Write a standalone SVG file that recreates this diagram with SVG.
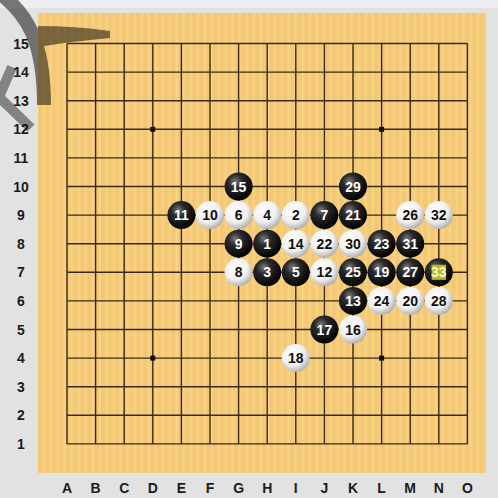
<svg xmlns="http://www.w3.org/2000/svg" width="498" height="498" viewBox="0 0 498 498">
<style>
.lbl{font-family:"Liberation Sans",Arial,sans-serif;font-weight:bold;font-size:14px;fill:#1a1a1a;text-anchor:middle}
.num{font-family:"Liberation Sans Narrow","Liberation Sans",Arial,sans-serif;font-stretch:condensed;font-weight:bold;font-size:14px;text-anchor:middle}
.b circle{fill:url(#gb)}
.w circle{fill:url(#gw)}
.b text{fill:#fff}
.w text{fill:#111}
.grid{fill:none;stroke:#3a2818;stroke-width:1.4}
</style>
<defs>
<radialGradient id="gb" cx="0.38" cy="0.32" r="0.7">
<stop offset="0" stop-color="#7a7a7a"/>
<stop offset="0.35" stop-color="#2a2a2a"/>
<stop offset="1" stop-color="#000"/>
</radialGradient>
<radialGradient id="gw" cx="0.4" cy="0.35" r="0.75">
<stop offset="0" stop-color="#ffffff"/>
<stop offset="0.55" stop-color="#f0f0f0"/>
<stop offset="1" stop-color="#9a9a9a"/>
</radialGradient>
<pattern id="wood" x="0" y="0" width="7" height="10" patternUnits="userSpaceOnUse">
<rect width="7" height="10" fill="#f6cb78"/>
<rect x="1" width="1.5" height="10" fill="#f9d589" opacity="0.8"/>
<rect x="4.5" width="1" height="10" fill="#f0c46e" opacity="0.7"/>
</pattern>
</defs>
<rect width="498" height="498" fill="#e2e2e2"/>
<rect width="498" height="8" fill="#efeef2"/>
<rect x="38" y="13" width="448" height="460" fill="url(#wood)"/>
<g id="grid">
<path class="grid" d="M67 43.5V443.9M95.6 43.5V443.9M124.2 43.5V443.9M152.8 43.5V443.9M181.4 43.5V443.9M210 43.5V443.9M238.6 43.5V443.9M267.2 43.5V443.9M295.8 43.5V443.9M324.4 43.5V443.9M353 43.5V443.9M381.6 43.5V443.9M410.2 43.5V443.9M438.8 43.5V443.9M467.4 43.5V443.9M67 43.5H467.4M67 72.1H467.4M67 100.7H467.4M67 129.3H467.4M67 157.9H467.4M67 186.5H467.4M67 215.1H467.4M67 243.7H467.4M67 272.3H467.4M67 300.9H467.4M67 329.5H467.4M67 358.1H467.4M67 386.7H467.4M67 415.3H467.4M67 443.9H467.4"/>
<g fill="#111">
<rect x="150.3" y="126.8" width="5" height="5"/>
<rect x="379.1" y="126.8" width="5" height="5"/>
<rect x="150.3" y="355.6" width="5" height="5"/>
<rect x="379.1" y="355.6" width="5" height="5"/>
</g>
</g>
<g id="row-labels" class="lbl">
<text x="21" y="48.5">15</text>
<text x="21" y="77.1">14</text>
<text x="21" y="105.7">13</text>
<text x="21" y="134.3">12</text>
<text x="21" y="162.9">11</text>
<text x="21" y="191.5">10</text>
<text x="21" y="220.1">9</text>
<text x="21" y="248.7">8</text>
<text x="21" y="277.3">7</text>
<text x="21" y="305.9">6</text>
<text x="21" y="334.5">5</text>
<text x="21" y="363.1">4</text>
<text x="21" y="391.7">3</text>
<text x="21" y="420.3">2</text>
<text x="21" y="448.9">1</text>
</g>
<g id="col-labels" class="lbl">
<text x="67" y="493">A</text>
<text x="95.6" y="493">B</text>
<text x="124.2" y="493">C</text>
<text x="152.8" y="493">D</text>
<text x="181.4" y="493">E</text>
<text x="210" y="493">F</text>
<text x="238.6" y="493">G</text>
<text x="267.2" y="493">H</text>
<text x="295.8" y="493">I</text>
<text x="324.4" y="493">J</text>
<text x="353" y="493">K</text>
<text x="381.6" y="493">L</text>
<text x="410.2" y="493">M</text>
<text x="438.8" y="493">N</text>
<text x="467.4" y="493">O</text>
</g>
<g id="stones">
<g id="s15" class="b"><circle cx="238.6" cy="186.5" r="14"/><text class="num" x="238.6" y="191.5">15</text></g>
<g id="s29" class="b"><circle cx="353" cy="186.5" r="14"/><text class="num" x="353" y="191.5">29</text></g>
<g id="s11" class="b"><circle cx="181.4" cy="215.1" r="14"/><text class="num" x="181.4" y="220.1">11</text></g>
<g id="s10" class="w"><circle cx="210" cy="215.1" r="14"/><text class="num" x="210" y="220.1">10</text></g>
<g id="s6" class="w"><circle cx="238.6" cy="215.1" r="14"/><text class="num" x="238.6" y="220.1">6</text></g>
<g id="s4" class="w"><circle cx="267.2" cy="215.1" r="14"/><text class="num" x="267.2" y="220.1">4</text></g>
<g id="s2" class="w"><circle cx="295.8" cy="215.1" r="14"/><text class="num" x="295.8" y="220.1">2</text></g>
<g id="s7" class="b"><circle cx="324.4" cy="215.1" r="14"/><text class="num" x="324.4" y="220.1">7</text></g>
<g id="s21" class="b"><circle cx="353" cy="215.1" r="14"/><text class="num" x="353" y="220.1">21</text></g>
<g id="s26" class="w"><circle cx="410.2" cy="215.1" r="14"/><text class="num" x="410.2" y="220.1">26</text></g>
<g id="s32" class="w"><circle cx="438.8" cy="215.1" r="14"/><text class="num" x="438.8" y="220.1">32</text></g>
<g id="s9" class="b"><circle cx="238.6" cy="243.7" r="14"/><text class="num" x="238.6" y="248.7">9</text></g>
<g id="s1" class="b"><circle cx="267.2" cy="243.7" r="14"/><text class="num" x="267.2" y="248.7">1</text></g>
<g id="s14" class="w"><circle cx="295.8" cy="243.7" r="14"/><text class="num" x="295.8" y="248.7">14</text></g>
<g id="s22" class="w"><circle cx="324.4" cy="243.7" r="14"/><text class="num" x="324.4" y="248.7">22</text></g>
<g id="s30" class="w"><circle cx="353" cy="243.7" r="14"/><text class="num" x="353" y="248.7">30</text></g>
<g id="s23" class="b"><circle cx="381.6" cy="243.7" r="14"/><text class="num" x="381.6" y="248.7">23</text></g>
<g id="s31" class="b"><circle cx="410.2" cy="243.7" r="14"/><text class="num" x="410.2" y="248.7">31</text></g>
<g id="s8" class="w"><circle cx="238.6" cy="272.3" r="14"/><text class="num" x="238.6" y="277.3">8</text></g>
<g id="s3" class="b"><circle cx="267.2" cy="272.3" r="14"/><text class="num" x="267.2" y="277.3">3</text></g>
<g id="s5" class="b"><circle cx="295.8" cy="272.3" r="14"/><text class="num" x="295.8" y="277.3">5</text></g>
<g id="s12" class="w"><circle cx="324.4" cy="272.3" r="14"/><text class="num" x="324.4" y="277.3">12</text></g>
<g id="s25" class="b"><circle cx="353" cy="272.3" r="14"/><text class="num" x="353" y="277.3">25</text></g>
<g id="s19" class="b"><circle cx="381.6" cy="272.3" r="14"/><text class="num" x="381.6" y="277.3">19</text></g>
<g id="s27" class="b"><circle cx="410.2" cy="272.3" r="14"/><text class="num" x="410.2" y="277.3">27</text></g>
<g id="s33" class="b"><circle cx="438.8" cy="272.3" r="14"/><rect x="431.6" y="264.8" width="14.4" height="15" fill="#b4bc26"/><text class="num" x="438.8" y="277.3" style="fill:#f4f6c8">33</text></g>
<g id="s13" class="b"><circle cx="353" cy="300.9" r="14"/><text class="num" x="353" y="305.9">13</text></g>
<g id="s24" class="w"><circle cx="381.6" cy="300.9" r="14"/><text class="num" x="381.6" y="305.9">24</text></g>
<g id="s20" class="w"><circle cx="410.2" cy="300.9" r="14"/><text class="num" x="410.2" y="305.9">20</text></g>
<g id="s28" class="w"><circle cx="438.8" cy="300.9" r="14"/><text class="num" x="438.8" y="305.9">28</text></g>
<g id="s17" class="b"><circle cx="324.4" cy="329.5" r="14"/><text class="num" x="324.4" y="334.5">17</text></g>
<g id="s16" class="w"><circle cx="353" cy="329.5" r="14"/><text class="num" x="353" y="334.5">16</text></g>
<g id="s18" class="w"><circle cx="295.8" cy="358.1" r="14"/><text class="num" x="295.8" y="363.1">18</text></g>
</g>
<g id="overlay-arc" opacity="0.5">
<path d="M2,-5 C26,14 44,40 44,105" fill="none" stroke="#000" stroke-width="14"/>
<path d="M38,26 Q75,26 110,31 L110,38 Q75,41 38,47 Z" fill="#000"/>
</g>
<g id="overlay-chevron" opacity="0.42">
<polyline points="12,67 -1,97 31,128" fill="none" stroke="#000" stroke-width="10"/>
</g>
</svg>
